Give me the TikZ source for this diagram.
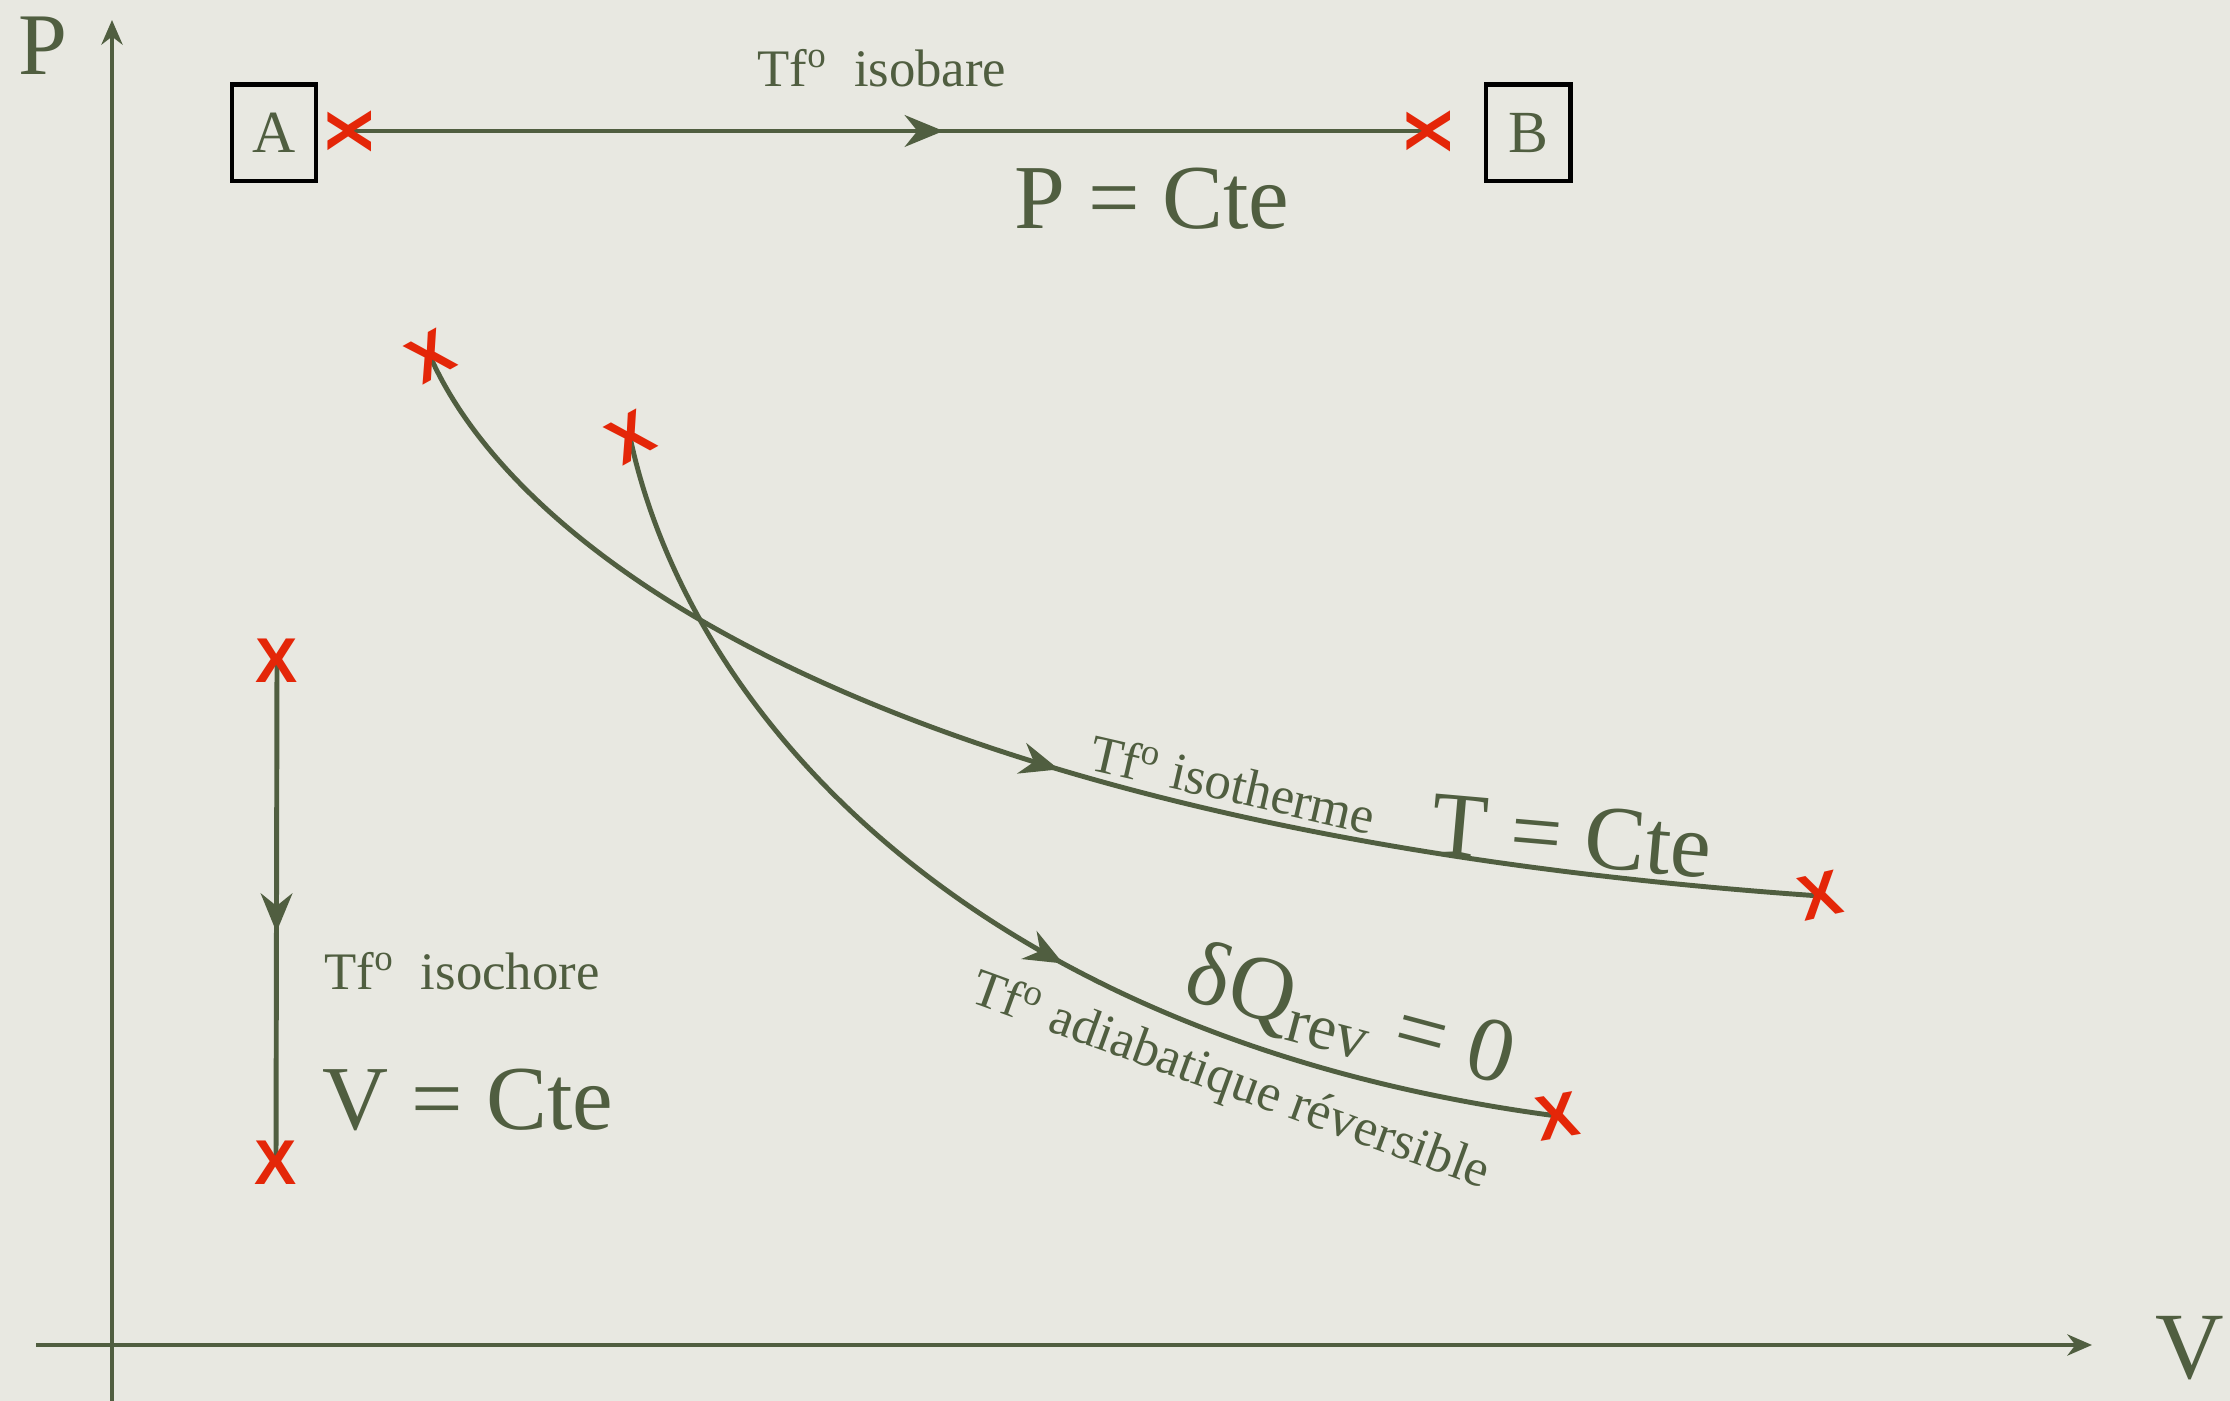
\documentclass[tikz,border=0pt]{standalone}
\usepackage{fontspec}
\setmainfont{Liberation Serif}
\newfontfamily\crossfont{Liberation Sans}
\usetikzlibrary{arrows.meta, decorations.markings}

\definecolor{pvgreen}{RGB}{80,94,64}
\definecolor{pvred}{RGB}{228,38,8}
\definecolor{pvpaper}{RGB}{232,232,225}

\begin{document}
\begin{tikzpicture}[
  x=0.01cm, y=-0.01cm,
  every node/.style={text=pvgreen, inner sep=0pt},
  axis/.style={draw=pvgreen, line width=1.3pt, -{Stealth[length=7pt, width=6pt]}},
  transfo/.style={draw=pvgreen, line width=1.4pt},
  midarrow/.style={postaction={decorate}, decoration={markings,
      mark=at position #1 with {\arrow{Stealth[length=11pt, width=9pt]}}}},
  cross/.style={text=pvred, font=\crossfont\bfseries\fontsize{18}{18}\selectfont},
  statebox/.style={draw=black, line width=1.4pt, minimum width=0.84cm,
                   minimum height=0.96cm, font=\fontsize{17}{17}\selectfont},
  smalltxt/.style={font=\fontsize{15}{18}\selectfont},
  bigtxt/.style={font=\fontsize{26}{30}\selectfont}
]
\useasboundingbox (0,0) rectangle (2230,1401);
\fill[pvpaper] (0,0) rectangle (2230,1401);

%% Axes
\coordinate (pbot)   at (112,1401);
\coordinate (ptop)   at (112,20);
\coordinate (vleft)  at (36,1345);
\coordinate (vright) at (2092,1345);
\draw[axis] (pbot) -- (ptop);
\draw[axis] (vleft) -- (vright);
\node[font=\fontsize{25}{25}\selectfont] (plabel) at (43,46) {P};
\node[font=\fontsize{27}{27}\selectfont] (vlabel) at (2190,1348) {V};

%% Isobare
\node[statebox] (A) at (274,133) {A};
\node[statebox] (B) at (1528,133) {B};
\coordinate (ia) at (350,131);
\coordinate (ib) at (1429,131);
\draw[transfo, midarrow=0.55] (ia) -- (ib);
\node[cross, rotate=90] (xa) at (ia) {X};
\node[cross, rotate=90] (xb) at (ib) {X};
\node[smalltxt] (isobare) at (882,68) {Tf\textsuperscript{o}\ \ isobare};
\node[bigtxt] (pcte) at (1152,199) {P = Cte};

%% Isochore
\coordinate (va) at (277,661);
\coordinate (vb) at (276,1163);
\draw[transfo, midarrow=0.54] (va) -- (vb);
\node[cross] (xva) at (va) {X};
\node[cross] (xvb) at (vb) {X};
\node[smalltxt] (isochore) at (462,971) {Tf\textsuperscript{o}\ \ isochore};
\node[bigtxt] (vcte) at (468,1100) {V = Cte};

%% Isotherme
\coordinate (ths) at (430,356);
\coordinate (the) at (1820,896);
\draw[transfo, midarrow=0.5] (ths) .. controls (520,560) and (900,832) .. (the);
\node[cross, rotate=29] (xths) at (ths) {X};
\node[cross, rotate=13] (xthe) at (the) {X};
\node[smalltxt, rotate=-13] (isotherme) at (1233,784) {Tf\textsuperscript{o} isotherme};
\node[bigtxt, rotate=-5] (tcte) at (1572,836) {T = Cte};

%% Adiabatique reversible
\coordinate (ads) at (630,437);
\coordinate (ade) at (1557,1116);
\draw[transfo, midarrow=0.575] (ads) .. controls (690,720) and (980,1040) .. (ade);
\node[cross, rotate=29] (xads) at (ads) {X};
\node[cross, rotate=10] (xade) at (ade) {X};
\node[bigtxt, rotate=-15] (dq) at (1350,1018) {δQ\textsubscript{rev} = 0};
\node[smalltxt, rotate=-20] (adiab) at (1230,1083) {Tf\textsuperscript{o} adiabatique réversible};

\end{tikzpicture}
\end{document}
